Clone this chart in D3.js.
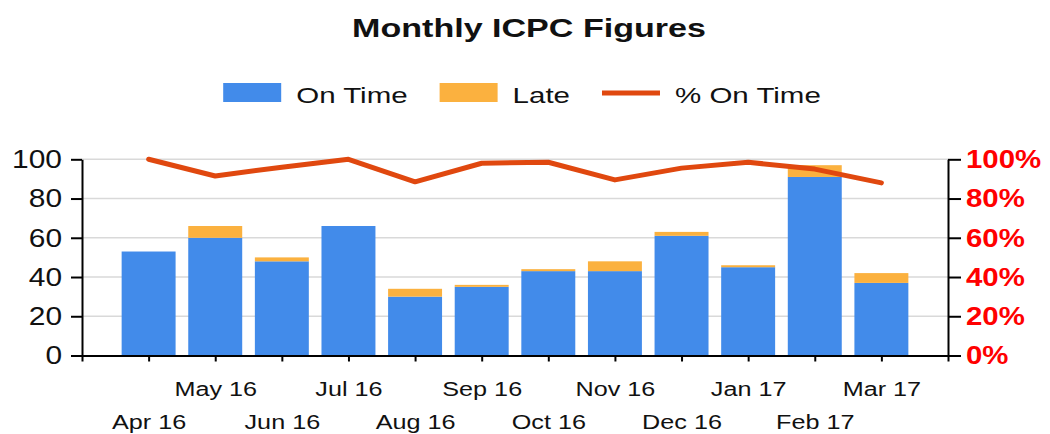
<!DOCTYPE html>
<html><head><meta charset="utf-8">
<script src="https://cdn.jsdelivr.net/npm/d3@7"></script>
<style>
body{margin:0;background:#fff}
svg{display:block}
text{font-family:"Liberation Sans",Arial,sans-serif}
</style>
</head><body>
<svg id="chart" width="1050" height="434"></svg>
<script>
// ---- data ----
const months = ["Apr 16","May 16","Jun 16","Jul 16","Aug 16","Sep 16","Oct 16","Nov 16","Dec 16","Jan 17","Feb 17","Mar 17"];
const onTime = [53,60,48,66,30,35,43,43,61,45,91,37];
const late   = [0,6,2,0,4,1,1,5,2,1,6,5];
const pctOnTime = [1.00,0.915,0.96,1.00,0.885,0.98,0.985,0.895,0.955,0.985,0.95,0.88];
const countTicks = [0,20,40,60,80,100];
const pctTicks = [0,0.2,0.4,0.6,0.8,1.0];
const seriesNames = ["On Time","Late","% On Time"];
const titleText = "Monthly ICPC Figures";

// ---- style ----
const cBlue = "#428bea", cLate = "#fbb13f", cLine = "#e0480f";

const svg = d3.select("#chart");
svg.append("rect").attr("width",1050).attr("height",434).attr("fill","#fff");

function stretch(sel, sx){
  sel.each(function(){
    const w = this.getComputedTextLength();
    this.setAttribute("textLength", w*sx);
    this.setAttribute("lengthAdjust","spacingAndGlyphs");
  });
}

const L = 82, R = 948, T = 159.3, B = 355.5;
const x = d3.scalePoint().domain(months).range([L,R]).padding(1);
const y = d3.scaleLinear().domain([0,100]).range([B,T]);
const yP = d3.scaleLinear().domain([0,1]).range([B,T]);
const barW = x.step()*0.81;

// grid
svg.append("g").selectAll("line").data(countTicks.filter(d=>d>0)).join("line")
  .attr("x1",L).attr("x2",R).attr("y1",d=>y(d)).attr("y2",d=>y(d))
  .attr("stroke","#d9d9d9").attr("stroke-width",1.5);

// bars
const data = months.map((m,i)=>({m, on:onTime[i], late:late[i], pct:pctOnTime[i]}));
svg.append("g").selectAll("rect").data(data).join("rect")
  .attr("x",d=>x(d.m)-barW/2).attr("width",barW)
  .attr("y",d=>y(d.on)).attr("height",d=>y(0)-y(d.on)).attr("fill",cBlue);
svg.append("g").selectAll("rect").data(data.filter(d=>d.late>0)).join("rect")
  .attr("x",d=>x(d.m)-barW/2).attr("width",barW)
  .attr("y",d=>y(d.on+d.late)).attr("height",d=>y(d.on)-y(d.on+d.late)).attr("fill",cLate);

// line
svg.append("path").datum(data)
  .attr("d", d3.line().x(d=>x(d.m)).y(d=>yP(d.pct)))
  .attr("fill","none").attr("stroke",cLine).attr("stroke-width",5)
  .attr("stroke-linejoin","round").attr("stroke-linecap","round");

// axes
const axStyle = g => { g.selectAll("path,line").attr("stroke","#000").attr("stroke-width",2); };

const gx = svg.append("g").attr("transform",`translate(0,${B})`)
  .call(d3.axisBottom(x).tickSize(6).tickSizeOuter(6).tickPadding(0));
gx.call(axStyle);
gx.selectAll("text").attr("fill","#111").attr("font-size",20)
  .attr("y",(d,i)=> i%2===1 ? 26 : 59.5).attr("dy","0.71em");
stretch(gx.selectAll("text"),1.26);

const gl = svg.append("g").attr("transform",`translate(${L},0)`)
  .call(d3.axisLeft(y).tickValues(countTicks).tickSize(11).tickSizeOuter(0).tickPadding(9));
gl.call(axStyle);
gl.selectAll("text").attr("fill","#111").attr("font-size",26);
stretch(gl.selectAll("text"),1.15);

const gr = svg.append("g").attr("transform",`translate(${R},0)`)
  .call(d3.axisRight(yP).tickValues(pctTicks).tickFormat(d3.format(".0%")).tickSize(13).tickSizeOuter(0).tickPadding(5));
gr.call(axStyle);
gr.selectAll("text").attr("fill","#ff0000").attr("font-size",26).attr("font-weight","bold");
stretch(gr.selectAll("text"),1.13);

svg.selectAll(".domain").attr("fill","none");
svg.selectAll(".tick text").attr("font-family",null);

// title
const tt = svg.append("text").attr("x",529).attr("y",37).attr("text-anchor","middle")
  .attr("font-size",26).attr("font-weight","bold").attr("fill","#111").text(titleText);
stretch(tt,1.31);

// legend
const lg = svg.append("g");
const legendY = 93, sw = 58, gapT = 15, gapI = 32, lsx = 1.34;
let cx = 0;
const items = [];
seriesNames.forEach((name,i)=>{
  const g = lg.append("g");
  if(i<2){
    g.append("rect").attr("x",cx).attr("y",legendY-10).attr("width",sw).attr("height",19)
      .attr("fill", i===0?cBlue:cLate);
  } else {
    g.append("line").attr("x1",cx).attr("x2",cx+sw).attr("y1",legendY).attr("y2",legendY)
      .attr("stroke",cLine).attr("stroke-width",5);
  }
  const t = g.append("text").attr("x",cx+sw+gapT).attr("y",legendY+9.5)
    .attr("font-size",22).attr("fill","#111").text(name);
  const w = t.node().getComputedTextLength()*lsx;
  stretch(t,lsx);
  cx += sw+gapT+w+gapI;
});
const totalW = cx - gapI;
lg.attr("transform",`translate(${522-totalW/2},0)`);
</script>
</body></html>
